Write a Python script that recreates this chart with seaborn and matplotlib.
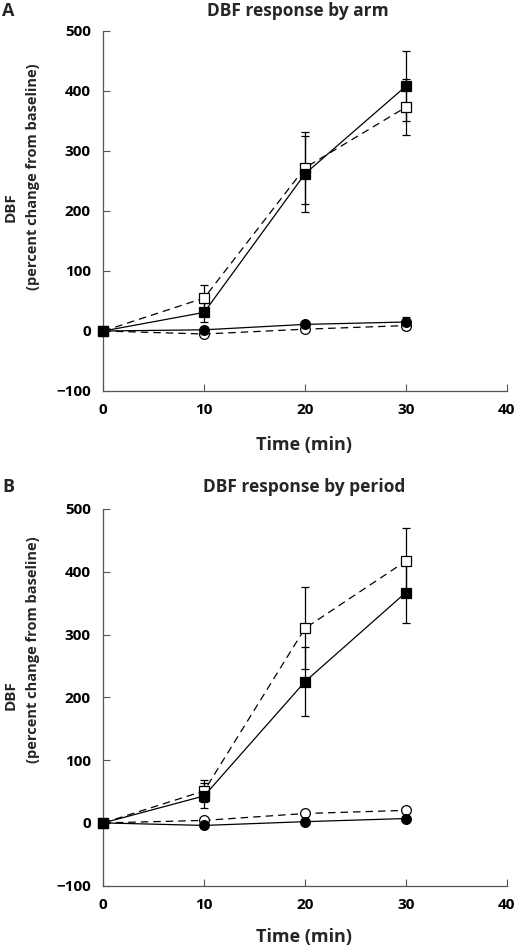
import matplotlib
matplotlib.use("Agg")
import matplotlib.pyplot as plt
import seaborn as sns
import pandas as pd

# time points (min)
time = [0, 10, 20, 30]

# panel A - by arm
a_filled_sq = [0, 31, 262, 408]
a_filled_sq_err = [0, 16, 63, 58]
a_open_sq = [0, 55, 272, 373]
a_open_sq_err = [0, 22, 60, 47]
a_filled_ci = [0, 2, 11, 15]
a_filled_ci_err = [0, 3, 3, 8]
a_open_ci = [0, -5, 3, 9]
a_open_ci_err = [0, 3, 3, 6]

# panel B - by period
b_filled_sq = [0, 43, 225, 367]
b_filled_sq_err = [0, 20, 55, 49]
b_open_sq = [0, 51, 310, 417]
b_open_sq_err = [0, 18, 65, 53]
b_filled_ci = [0, -4, 2, 7]
b_filled_ci_err = [0, 3, 3, 4]
b_open_ci = [0, 4, 15, 20]
b_open_ci_err = [0, 3, 4, 5]

x_ticks = [0, 10, 20, 30, 40]
y_ticks = [-100, 0, 100, 200, 300, 400, 500]

sns.set_style("ticks")
plt.rcParams['font.family'] = ['Open Sans', 'DejaVu Sans']
plt.rcParams['font.weight'] = 'bold'

W, H = 516, 947
fig = plt.figure(figsize=(W / 100, H / 100), dpi=100)


def px_box(left, top, right, bottom):
    return [left / W, 1 - bottom / H, (right - left) / W, (bottom - top) / H]


def draw_panel(ax, series):
    for vals, errs, marker, filled, ls in series:
        df = pd.DataFrame({'time': time, 'value': vals})
        sns.lineplot(data=df, x='time', y='value', ax=ax, color='black',
                     linewidth=0.9, linestyle=ls, marker=marker, markersize=7,
                     markerfacecolor='black' if filled else 'white',
                     markeredgecolor='black', markeredgewidth=0.9,
                     errorbar=None, clip_on=False, zorder=3 if filled else 2)
        ax.errorbar(time, vals, yerr=errs, fmt='none', ecolor='black',
                    elinewidth=0.9, capsize=3.2, capthick=0.9, clip_on=False,
                    zorder=1)
    ax.set_xlim(0, 40)
    ax.set_ylim(-100, 500)
    ax.set_xticks(x_ticks)
    ax.set_yticks(y_ticks)
    ax.tick_params(direction='in', length=5, width=0.8, colors='#555555',
                   labelcolor='black', labelsize=11, pad=9)
    for lab in ax.get_xticklabels() + ax.get_yticklabels():
        lab.set_fontweight('bold')
    for s in ['top', 'right']:
        ax.spines[s].set_visible(False)
    for s in ['left', 'bottom']:
        ax.spines[s].set_color('#555555')
        ax.spines[s].set_linewidth(0.9)
    ax.set_xlabel('')
    ax.set_ylabel('')


dash = (0, (6, 4))

axA = fig.add_axes(px_box(103.3, 31, 506.7, 391))
draw_panel(axA, [
    (a_open_sq, a_open_sq_err, 's', False, dash),
    (a_filled_sq, a_filled_sq_err, 's', True, '-'),
    (a_open_ci, a_open_ci_err, 'o', False, dash),
    (a_filled_ci, a_filled_ci_err, 'o', True, '-'),
])

axB = fig.add_axes(px_box(103.3, 509, 506.7, 885.7))
draw_panel(axB, [
    (b_open_sq, b_open_sq_err, 's', False, dash),
    (b_filled_sq, b_filled_sq_err, 's', True, '-'),
    (b_open_ci, b_open_ci_err, 'o', False, dash),
    (b_filled_ci, b_filled_ci_err, 'o', True, '-'),
])


def ftext(x, y, s, **kw):
    fig.text(x / W, 1 - y / H, s, ha='center', va='center',
             fontweight='bold', **kw)


ftext(8, 11, 'A', fontsize=13)
ftext(298, 11, 'DBF response by arm', fontsize=12.5)
ftext(11, 207, 'DBF', fontsize=11, rotation=90)
ftext(33, 177, '(percent change from baseline)', fontsize=10.5, rotation=90)
ftext(304, 445, 'Time (min)', fontsize=13)

ftext(8, 487, 'B', fontsize=13)
ftext(304, 487, 'DBF response by period', fontsize=12.5)
ftext(11, 695, 'DBF', fontsize=11, rotation=90)
ftext(33, 650, '(percent change from baseline)', fontsize=10.5, rotation=90)
ftext(304, 937, 'Time (min)', fontsize=13)

fig.savefig('out.png', dpi=100)
